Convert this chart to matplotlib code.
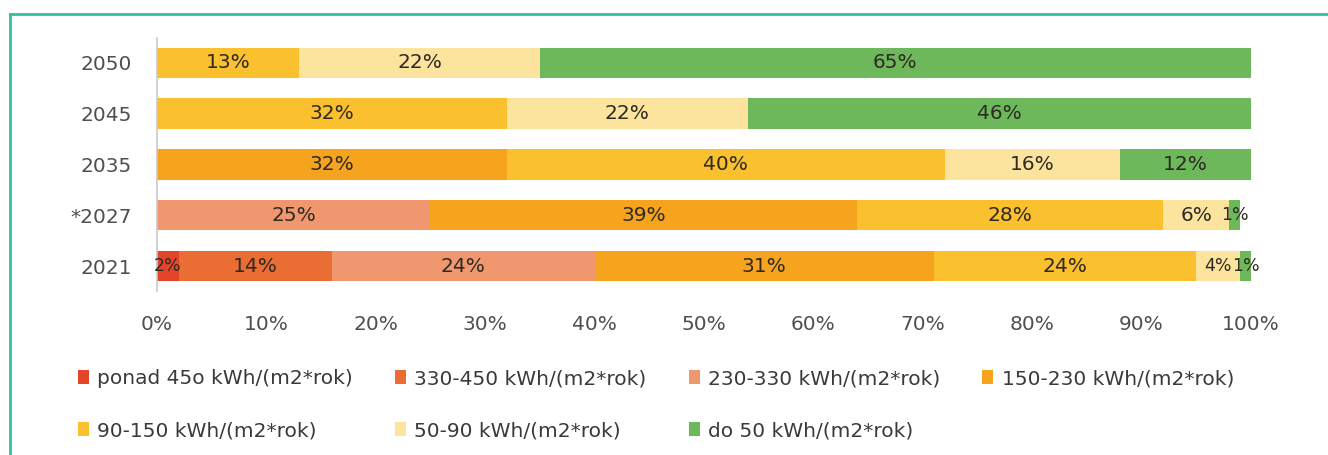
import matplotlib.pyplot as plt
from matplotlib.lines import Line2D
from matplotlib.patches import Patch

# lata (od dołu) i udziały klas zapotrzebowania na energię, w %
lata = ["2021", "*2027", "2035", "2045", "2050"]
klasy = [
    "ponad 45o kWh/(m2*rok)",
    "330-450 kWh/(m2*rok)",
    "230-330 kWh/(m2*rok)",
    "150-230 kWh/(m2*rok)",
    "90-150 kWh/(m2*rok)",
    "50-90 kWh/(m2*rok)",
    "do 50 kWh/(m2*rok)",
]
ponad_450 = [2, 0, 0, 0, 0]
k330_450 = [14, 0, 0, 0, 0]
k230_330 = [24, 25, 0, 0, 0]
k150_230 = [31, 39, 32, 0, 0]
k90_150 = [24, 28, 40, 32, 13]
k50_90 = [4, 6, 16, 22, 22]
do_50 = [1, 1, 12, 46, 65]
serie = [ponad_450, k330_450, k230_330, k150_230, k90_150, k50_90, do_50]

kolory = ["#E2452A", "#EA6D34", "#F0976F", "#F6A31E", "#FBC02E", "#FCE39E", "#6CB85B"]

plt.rcParams["font.family"] = ["DejaVu Sans"]

fig = plt.figure(figsize=(13.28, 4.55), dpi=100)
fig.patch.set_facecolor("white")
ax = fig.add_axes([0.1182, 0.3596, 0.8238, 0.5578])

y = range(len(lata))
lewo = [0] * len(lata)
for wartosci, kolor in zip(serie, kolory):
    ax.barh(y, wartosci, left=lewo, height=0.6, color=kolor, edgecolor="none")
    for i, v in enumerate(wartosci):
        if v > 0:
            # wąskie segmenty: trochę mniejszy napis, żeby się nie zlewały
            rozmiar = 14.5 if v >= 5 else 12.5
            ax.text(lewo[i] + v / 2, i, f"{v}%", ha="center", va="center",
                    fontsize=rozmiar, color="#2E2A22")
    lewo = [a + b for a, b in zip(lewo, wartosci)]

ax.set_xlim(0, 100)
ax.set_ylim(-0.5, len(lata) - 0.5)
ax.set_yticks(list(y))
ax.set_yticklabels(lata)
ax.set_xticks(range(0, 101, 10))
ax.set_xticklabels([f"{t}%" for t in range(0, 101, 10)])
ax.tick_params(axis="both", length=0, labelsize=14.5, colors="#4F4F4F")
ax.tick_params(axis="x", pad=17)
ax.tick_params(axis="y", pad=18)
for s in ["top", "right", "bottom"]:
    ax.spines[s].set_visible(False)
ax.spines["left"].set_color("#C8C8D0")
ax.spines["left"].set_linewidth(1.2)

# legenda: wiersz po wierszu (4 + 3)
uchwyty = [Patch(facecolor=k, edgecolor="none") for k in kolory]
kolejnosc = [0, 4, 1, 5, 2, 6, 3]
fig.legend([uchwyty[i] for i in kolejnosc], [klasy[i] for i in kolejnosc],
           ncol=4, loc="upper left", bbox_to_anchor=(0.045, 0.228),
           frameon=False, fontsize=14.5, labelcolor="#3A3A3A",
           handlelength=0.55, handleheight=0.7, handletextpad=0.4,
           columnspacing=2.1, labelspacing=1.62)

# ramka
rama = "#2EC29E"
fig.add_artist(Line2D([10 / 1328, 1], [1 - 14 / 455, 1 - 14 / 455],
                      transform=fig.transFigure, color=rama, lw=2))
fig.add_artist(Line2D([10 / 1328, 10 / 1328], [0, 1 - 14 / 455],
                      transform=fig.transFigure, color=rama, lw=2))

fig.savefig("out.png", dpi=100)
